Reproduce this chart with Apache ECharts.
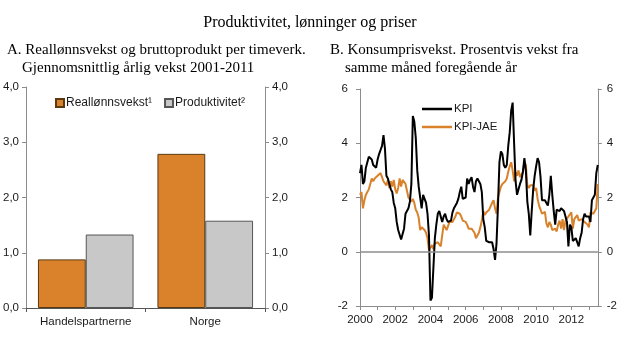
<!DOCTYPE html>
<html>
<head>
<meta charset="utf-8">
<script src="https://cdn.jsdelivr.net/npm/echarts@6/dist/echarts.min.js"></script>
<style>
html,body{margin:0;padding:0;background:#fff;}
#chart{width:620px;height:344px;}
</style>
</head>
<body>
<div id="chart"></div>
<script>
// ---- Panel A data ----
const barCategories = ['Handelspartnerne', 'Norge'];
const reallonnsvekst = [0.88, 2.79];
const produktivitet = [1.33, 1.58];
const barSeriesNames = ['Reallønnsvekst¹', 'Produktivitet²'];

// ---- Panel B data (monthly, 12-month growth, Jan 2000 - Jul 2013) ----
const firstYear = 2000;
const kpi = [
  2.9, 3.2, 2.5, 2.6, 3.1, 3.3, 3.5, 3.5, 3.4, 3.2, 3.25, 3.1,
  3.4, 3.6, 3.75, 3.9, 4.3, 3.8, 2.8, 2.7, 2.5, 2.3, 2.2, 1.8,
  1.6, 1.1, 0.8, 0.75, 0.45, 0.4, 0.85, 1.4, 1.4, 1.6, 1.85, 2.5,
  5.0, 4.8, 4.2, 3.0, 2.4, 2.0, 1.6, 2.1, 2.1, 1.8, 1.4, 0.6,
  -1.8, -1.7, -0.6, 0.5, 1.0, 1.4, 1.5, 1.3, 1.1, 1.3, 1.4, 1.2,
  1.1, 1.05, 1.15, 1.45, 1.6, 1.55, 1.8, 1.95, 2.2, 2.4, 1.95, 1.9,
  2.0, 2.7, 2.5, 2.65, 2.75, 2.4, 2.2, 2.6, 2.7, 2.6, 2.5, 2.2,
  1.2, 0.9, 0.4, 0.4, 0.35, 0.4, 0.35, 0.1, -0.3, 0.3, 1.7, 3.3,
  3.7, 3.6, 3.2, 3.1, 3.2, 3.9, 4.4, 5.2, 5.5, 4.0, 2.6, 2.1,
  2.3, 2.5, 2.65, 2.95, 3.45, 3.0, 1.85, 1.4, 0.6, 1.5, 2.3, 2.8,
  3.15, 3.45, 3.3, 2.75, 1.9, 1.85, 1.9, 1.8, 1.7, 2.1, 2.8, 2.1,
  1.5, 1.0, 1.55, 1.6, 1.5, 1.6, 1.55, 1.5, 1.3, 1.1, 0.2, 1.0,
  0.9, 0.4, 0.4, 0.5, 0.5, 0.2, 0.5, 0.7, 1.2, 1.4, 1.3, 1.3,
  1.3, 1.1, 1.9, 2.0, 2.1, 2.9, 3.2
];
const kpiJae = [
  2.1, 2.2, 1.6, 1.9, 2.1, 2.2, 2.3, 2.5, 2.7, 2.6, 2.7, 2.75,
  2.8, 2.8, 2.9, 2.75, 2.6, 2.65, 2.45, 2.65, 2.35, 2.6, 2.4, 2.65,
  2.3, 2.15, 2.35, 2.7, 2.4, 2.65, 2.7, 2.5, 2.25, 2.0, 1.95, 1.85,
  1.95, 1.8, 1.55, 1.45, 1.25, 0.8, 0.9, 0.85, 0.8, 0.7, 0.5, 0.05,
  0.0, 0.25, 0.1, 0.3, 0.25, 0.35, 0.35, 0.2, 0.6, 1.0, 1.05, 0.8,
  0.75, 1.1, 1.05, 1.1, 1.15, 1.3, 1.45, 1.5, 1.4, 1.3, 1.15, 1.1,
  1.1, 1.0, 0.85, 0.9, 0.85, 0.8, 0.7, 0.5, 0.45, 0.7, 0.9, 1.15,
  1.5, 1.35, 1.45, 1.5, 1.55, 1.6, 1.8, 1.9, 1.6, 1.4, 2.0, 2.2,
  2.4, 2.5, 2.5, 2.6, 2.7, 2.95, 3.15, 3.3, 3.0, 2.6, 2.95, 2.8,
  3.0, 2.75, 2.8, 2.95, 3.3, 3.2, 2.45, 2.35, 2.45, 2.4, 2.45, 2.25,
  2.35, 1.95, 1.7, 1.55, 1.4, 1.35, 1.47, 1.05, 0.9, 1.1, 1.0, 0.8,
  0.8, 0.85, 0.75, 1.0, 1.15, 0.85, 1.2, 0.8, 1.15, 1.2, 1.3, 1.35,
  1.45, 0.85, 1.2, 1.15, 1.35, 1.15, 1.1, 1.2, 1.2, 1.1, 1.05, 1.0,
  0.9, 1.45, 1.4, 1.4, 1.4, 1.6, 2.5
];
const lineSeriesNames = ['KPI', 'KPI-JAE'];

// ---- Texts ----
const mainTitle = 'Produktivitet, lønninger og priser';
const subtitleA = ['A. Reallønnsvekst og bruttoprodukt per timeverk.', 'Gjennomsnittlig årlig vekst 2001-2011'];
const subtitleB = ['B. Konsumprisvekst. Prosentvis vekst fra', 'samme måned foregående år'];

// ---- Axis settings ----
const barAxis = { min: 0, max: 4, interval: 1 };
const lineAxis = { min: -2, max: 6, interval: 2 };
const yearAxis = { min: 2000, max: 2013.5, interval: 1 };

const ORANGE = '#D9822B';
const GREY_BAR = '#C8C8C8';
const AXIS_GREY = '#8C8C8C';
const SANS = '"Liberation Sans", Arial, sans-serif';
const SERIF = '"Liberation Serif", "Times New Roman", serif';

const toMonthYear = (i) => firstYear + i / 12;
const kpiData = kpi.map((v, i) => [toMonthYear(i), v]);
const jaeData = kpiJae.map((v, i) => [toMonthYear(i), v]);

const commaFmt = (v) => v.toFixed(1).replace('.', ',');

function valueAxis(gridIndex, cfg, position, fmt, margin) {
  return {
    type: 'value', gridIndex, position,
    min: cfg.min, max: cfg.max, interval: cfg.interval,
    axisLine: { show: true, lineStyle: { color: AXIS_GREY, width: 1 } },
    axisTick: { show: true, inside: false, length: 4, lineStyle: { color: AXIS_GREY } },
    splitLine: { show: false },
    axisLabel: { color: '#1a1a1a', fontFamily: SANS, fontSize: 11.5, margin, formatter: fmt }
  };
}

const chart = echarts.init(document.getElementById('chart'), null, { renderer: 'canvas' });

const option = {
  animation: false,
  backgroundColor: '#fff',
  graphic: [
    { type: 'text', left: 'center', top: 15, style: { text: mainTitle, font: '16px ' + SERIF, fill: '#000' } },
    { type: 'text', left: 7, top: 43, style: { text: subtitleA[0], font: '15px ' + SERIF, fill: '#000' } },
    { type: 'text', left: 22, top: 61, style: { text: subtitleA[1], font: '15px ' + SERIF, fill: '#000' } },
    { type: 'text', left: 330, top: 43, style: { text: subtitleB[0], font: '15px ' + SERIF, fill: '#000' } },
    { type: 'text', left: 345, top: 61, style: { text: subtitleB[1], font: '15px ' + SERIF, fill: '#000' } }
  ],
  legend: [
    {
      data: barSeriesNames,
      left: 55, top: 97, padding: 0,
      itemWidth: 8, itemHeight: 8, itemGap: 12,
      icon: 'rect',
      textStyle: { fontFamily: SANS, fontSize: 12, color: '#1a1a1a', padding: [0, 0, 0, -3] }
    },
    {
      data: lineSeriesNames,
      orient: 'vertical',
      left: 422, top: 103, padding: 0,
      icon: 'rect',
      itemWidth: 30, itemHeight: 2.5, itemGap: 6,
      textStyle: { fontFamily: SANS, fontSize: 11.5, color: '#1a1a1a', padding: [0, 0, 0, -3] }
    }
  ],
  grid: [
    { left: 26, right: 355, top: 87, bottom: 36 },
    { left: 360, right: 21, top: 89, bottom: 38 }
  ],
  xAxis: [
    {
      type: 'category', gridIndex: 0, data: barCategories,
      axisLine: { show: true, lineStyle: { color: '#555', width: 1 } },
      axisTick: { show: true, alignWithLabel: false, length: 4, lineStyle: { color: '#555' } },
      axisLabel: { color: '#1a1a1a', fontFamily: SANS, fontSize: 11.5, margin: 8 }
    },
    {
      type: 'value', gridIndex: 1,
      min: yearAxis.min, max: yearAxis.max, interval: yearAxis.interval,
      axisLine: { show: true, onZero: false, lineStyle: { color: AXIS_GREY, width: 1 } },
      axisTick: { show: true, length: 4, lineStyle: { color: AXIS_GREY } },
      splitLine: { show: false },
      axisLabel: {
        color: '#1a1a1a', fontFamily: SANS, fontSize: 11.5, margin: 8,
        showMaxLabel: false,
        formatter: (v) => (Number.isInteger(v) && v % 2 === 0) ? String(v) : ''
      }
    }
  ],
  yAxis: [
    valueAxis(0, barAxis, 'left', commaFmt, 7),
    valueAxis(0, barAxis, 'right', commaFmt, 7),
    valueAxis(1, lineAxis, 'left', (v) => String(v), 12),
    valueAxis(1, lineAxis, 'right', (v) => String(v), 9)
  ],
  series: [
    {
      name: barSeriesNames[0], type: 'bar', xAxisIndex: 0, yAxisIndex: 0,
      data: reallonnsvekst, barGap: '0%', barCategoryGap: '20%',
      itemStyle: { color: ORANGE, borderColor: '#5a3a10', borderWidth: 1 }
    },
    {
      name: barSeriesNames[1], type: 'bar', xAxisIndex: 0, yAxisIndex: 0,
      data: produktivitet, barGap: '0%', barCategoryGap: '20%',
      itemStyle: { color: GREY_BAR, borderColor: '#555', borderWidth: 1 }
    },
    {
      name: lineSeriesNames[0], type: 'line', xAxisIndex: 1, yAxisIndex: 2,
      data: kpiData, symbol: 'none', showSymbol: false, z: 3,
      lineStyle: { color: '#000', width: 2 }, itemStyle: { color: '#000', borderWidth: 0 },
      markLine: {
        silent: true, symbol: 'none', label: { show: false },
        lineStyle: { color: AXIS_GREY, width: 1.5, type: 'solid' },
        data: [{ yAxis: 0 }]
      }
    },
    {
      name: lineSeriesNames[1], type: 'line', xAxisIndex: 1, yAxisIndex: 2,
      data: jaeData, symbol: 'none', showSymbol: false, z: 2,
      lineStyle: { color: ORANGE, width: 2 }, itemStyle: { color: ORANGE, borderWidth: 0 }
    }
  ]
};
chart.setOption(option);
</script>
</body>
</html>
